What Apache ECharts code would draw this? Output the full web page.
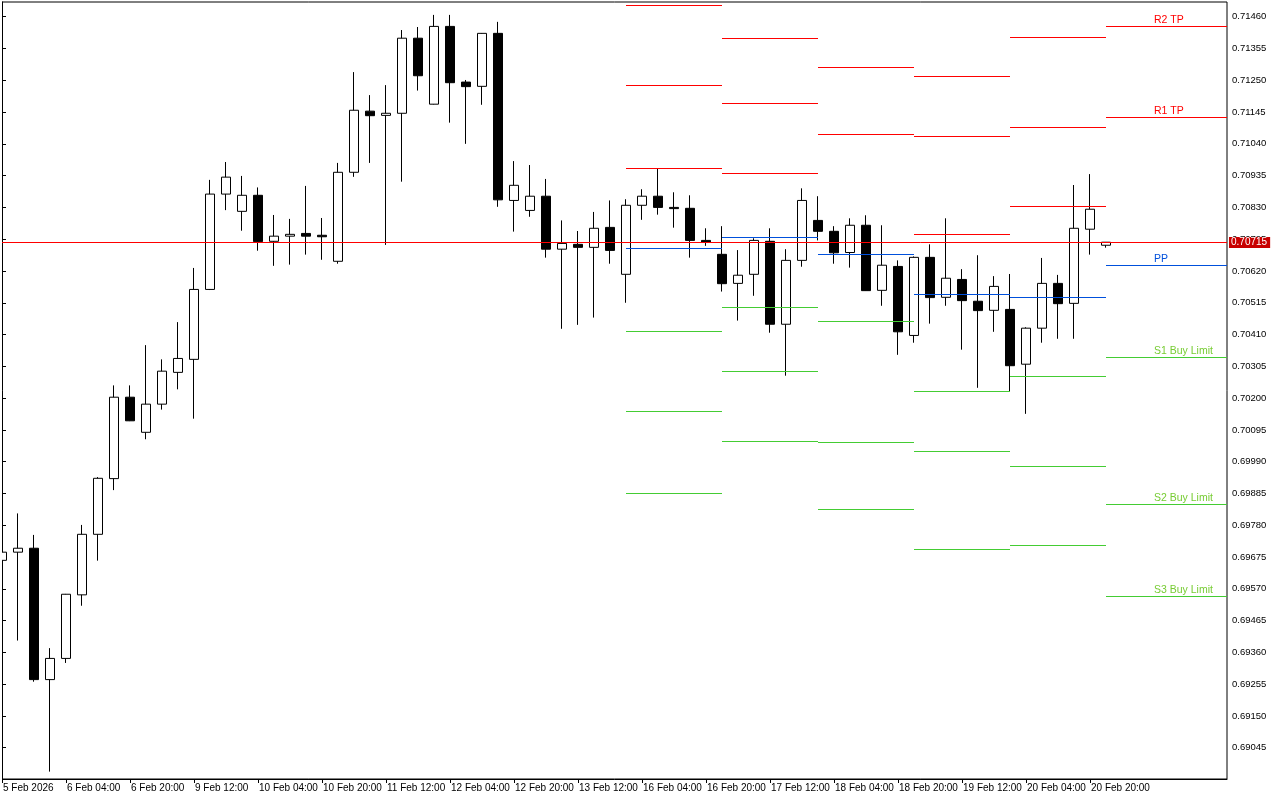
<!DOCTYPE html>
<html>
<head>
<meta charset="utf-8">
<title>H4 chart with daily pivots</title>
<script src="https://cdn.jsdelivr.net/npm/echarts@6.0.0/dist/echarts.min.js"></script>
<style>
  html, body { margin: 0; padding: 0; background: #fff; }
  #chart { width: 1280px; height: 800px; }
</style>
</head>
<body>
<div id="chart"></div>
<script>
// 4h bars, index 0 = 5 Feb 12:00, last = 23 Feb 00:00
const opens = [
  0.69664, 0.69691, 0.69704, 0.69270, 0.69340, 0.69550, 0.69750, 0.69934, 0.70203, 0.70087,
  0.70180, 0.70285, 0.70328, 0.70559, 0.70874, 0.70817, 0.70870, 0.70718, 0.70735, 0.70744,
  0.70738, 0.70652, 0.70946, 0.71148, 0.71134, 0.71141, 0.71389, 0.71171, 0.71428, 0.71244,
  0.71230, 0.71405, 0.70853, 0.70820, 0.70867, 0.70692, 0.70708, 0.70698, 0.70764, 0.70609,
  0.70837, 0.70867, 0.70830, 0.70827, 0.70721, 0.70675, 0.70579, 0.70609, 0.70718, 0.70444,
  0.70655, 0.70787, 0.70751, 0.70681, 0.70771, 0.70556, 0.70635, 0.70407, 0.70665, 0.70533,
  0.70592, 0.70520, 0.70490, 0.70493, 0.70312, 0.70431, 0.70579, 0.70513, 0.70758, 0.70705
];
const highs = [
  0.69698, 0.69819, 0.69748, 0.69374, 0.69553, 0.69781, 0.69939, 0.70242, 0.70242, 0.70375,
  0.70328, 0.70451, 0.70630, 0.70921, 0.70980, 0.70934, 0.70896, 0.70805, 0.70792, 0.70901,
  0.70795, 0.70977, 0.71277, 0.71201, 0.71234, 0.71416, 0.71426, 0.71466, 0.71466, 0.71251,
  0.71406, 0.71443, 0.70983, 0.70970, 0.70924, 0.70787, 0.70752, 0.70815, 0.70853, 0.70857,
  0.70890, 0.70957, 0.70880, 0.70870, 0.70761, 0.70768, 0.70689, 0.70728, 0.70761, 0.70692,
  0.70893, 0.70867, 0.70768, 0.70794, 0.70804, 0.70771, 0.70655, 0.70668, 0.70708, 0.70794,
  0.70626, 0.70672, 0.70603, 0.70610, 0.70434, 0.70663, 0.70607, 0.70904, 0.70940, 0.70715
];
const lows = [
  0.69659, 0.69399, 0.69263, 0.68966, 0.69325, 0.69514, 0.69663, 0.69896, 0.70124, 0.70064,
  0.70162, 0.70229, 0.70132, 0.70557, 0.70821, 0.70753, 0.70687, 0.70637, 0.70641, 0.70674,
  0.70657, 0.70644, 0.70931, 0.70977, 0.70706, 0.70915, 0.71216, 0.71170, 0.71110, 0.71040,
  0.71169, 0.70832, 0.70750, 0.70799, 0.70664, 0.70429, 0.70442, 0.70466, 0.70644, 0.70515,
  0.70789, 0.70806, 0.70763, 0.70664, 0.70703, 0.70552, 0.70456, 0.70538, 0.70416, 0.70274,
  0.70634, 0.70721, 0.70644, 0.70631, 0.70554, 0.70505, 0.70343, 0.70383, 0.70446, 0.70505,
  0.70360, 0.70234, 0.70419, 0.70221, 0.70148, 0.70383, 0.70396, 0.70396, 0.70674, 0.70697
];
const closes = [
  0.69691, 0.69704, 0.69270, 0.69340, 0.69552, 0.69750, 0.69935, 0.70203, 0.70125, 0.70180,
  0.70289, 0.70331, 0.70559, 0.70874, 0.70930, 0.70870, 0.70717, 0.70735, 0.70741, 0.70735,
  0.70733, 0.70946, 0.71151, 0.71133, 0.71141, 0.71389, 0.71265, 0.71428, 0.71242, 0.71229,
  0.71405, 0.70855, 0.70903, 0.70867, 0.70692, 0.70711, 0.70698, 0.70761, 0.70688, 0.70837,
  0.70867, 0.70830, 0.70826, 0.70721, 0.70715, 0.70578, 0.70606, 0.70721, 0.70444, 0.70655,
  0.70853, 0.70751, 0.70680, 0.70771, 0.70555, 0.70639, 0.70419, 0.70665, 0.70532, 0.70596,
  0.70522, 0.70489, 0.70569, 0.70307, 0.70431, 0.70579, 0.70512, 0.70761, 0.70824, 0.70715
];

// time axis labels, one every 4 bars
const xLabels = [
  '5 Feb 2026', '6 Feb 04:00', '6 Feb 20:00', '9 Feb 12:00', '10 Feb 04:00', '10 Feb 20:00',
  '11 Feb 12:00', '12 Feb 04:00', '12 Feb 20:00', '13 Feb 12:00', '16 Feb 04:00', '16 Feb 20:00',
  '17 Feb 12:00', '18 Feb 04:00', '18 Feb 20:00', '19 Feb 12:00', '20 Feb 04:00', '20 Feb 20:00'
];
const xLabelStep = 4;

// price scale ticks
const yTicks = [
  0.69045, 0.69150, 0.69255, 0.69360, 0.69465, 0.69570, 0.69675, 0.69780, 0.69885, 0.69990,
  0.70095, 0.70200, 0.70305, 0.70410, 0.70515, 0.70620, 0.70725, 0.70830, 0.70935, 0.71040,
  0.71145, 0.71250, 0.71355, 0.71460
];

// daily pivot levels: 16, 17, 18, 19, 20, 23 Feb (bar index where each day starts)
const dayStart = [39, 45, 51, 57, 63, 69];
const r3 = [0.71498, 0.71389, null, 0.71263, 0.71393, null];
const r2 = [0.71233, 0.71174, 0.71293, 0.71065, 0.71095, 0.71429];
const r1 = [0.70959, 0.70943, 0.71072, 0.70741, 0.70834, 0.71128];
const pp = [0.70695, 0.70731, 0.70675, 0.70543, 0.70533, 0.70639];
const s1 = [0.70421, 0.70500, 0.70454, 0.70222, 0.70272, 0.70335];
const s2 = [0.70156, 0.70289, 0.70054, 0.70024, 0.69975, 0.69849];
const s3 = [0.69885, 0.70057, 0.69833, 0.69700, 0.69714, 0.69545];
const levelNames = ['', 'R2 TP', 'R1 TP', 'PP', 'S1 Buy Limit', 'S2 Buy Limit', 'S3 Buy Limit'];

const RED = '#ff0000';
const BLUE = '#0050dc';
const GREEN = '#44cc33';
const FONT = '"Liberation Sans", Arial, sans-serif';

const levels = [
  { vals: r3, color: RED, text: RED },
  { vals: r2, color: RED, text: RED },
  { vals: r1, color: RED, text: RED },
  { vals: pp, color: BLUE, text: BLUE },
  { vals: s1, color: GREEN, text: '#77cc33' },
  { vals: s2, color: GREEN, text: '#77cc33' },
  { vals: s3, color: GREEN, text: '#77cc33' }
];

const X_MAX = 76.5625;   // right edge of plot area in bar units (16px per bar)
const LABEL_AT = 72;     // bar where the current day's level names are written

const candles = opens.map((o, i) => [i, o, closes[i], lows[i], highs[i]]);
const lastPrice = closes[closes.length - 1];

// pivot segments: [fromBar, toBar, price, levelIndex, label]
const pivotRows = [];
levels.forEach((lv, li) => {
  lv.vals.forEach((v, d) => {
    if (v == null) return;
    const end = d + 1 < dayStart.length ? dayStart[d + 1] : X_MAX;
    const label = d === dayStart.length - 1 ? levelNames[li] : '';
    pivotRows.push([dayStart[d], end, v, li, label]);
  });
});

function renderPivot(params, api) {
  const row = pivotRows[params.dataIndex];
  const lv = levels[row[3]];
  const a = api.coord([row[0], row[2]]);
  const b = api.coord([row[1], row[2]]);
  const y = Math.round(a[1]) + 0.5;
  const children = [{
    type: 'line',
    shape: { x1: Math.round(a[0]), y1: y, x2: Math.round(b[0]), y2: y },
    style: { stroke: lv.color, lineWidth: 1 }
  }];
  if (row[4]) {
    const t = api.coord([LABEL_AT, row[2]]);
    children.push({
      type: 'text',
      x: Math.round(t[0]),
      y: y - 1,
      style: { text: row[4], fill: lv.text, font: '10.5px ' + FONT, align: 'left', verticalAlign: 'bottom' }
    });
  }
  return { type: 'group', children: children };
}

// bid line across the whole chart + price tag on the scale
function renderBid(params, api) {
  const a = api.coord([0, api.value(0)]);
  const b = api.coord([X_MAX, api.value(0)]);
  const y = Math.round(a[1]) + 0.5;
  return {
    type: 'group',
    children: [{
      type: 'line',
      shape: { x1: Math.round(a[0]), y1: y, x2: Math.round(b[0]), y2: y },
      style: { stroke: RED, lineWidth: 1 }
    }, {
      type: 'text',
      x: Math.round(b[0]) + 2,
      y: y,
      style: {
        text: api.value(0).toFixed(5),
        fill: '#fff',
        backgroundColor: '#c80000',
        padding: [1, 3, 0, 2],
        font: '10px ' + FONT,
        align: 'left',
        verticalAlign: 'middle'
      }
    }]
  };
}

const yMin = 0.689416;
const yMax = 0.715086;

const chart = echarts.init(document.getElementById('chart'));

const option = {
  animation: false,
  backgroundColor: '#fff',
  grid: {
    left: 2, top: 2, right: 53, bottom: 21,
    show: true, borderColor: '#000', borderWidth: 1, backgroundColor: '#fff'
  },
  // hides the part of the first bar that falls left of the frame
  graphic: [{
    type: 'rect', left: 0, top: 0, z: 100,
    shape: { width: 2, height: 780 },
    style: { fill: '#fff' }
  }],
  xAxis: {
    type: 'value',
    min: 0,
    max: X_MAX,
    splitLine: { show: false },
    axisLine: { show: true, lineStyle: { color: '#000', width: 1 } },
    axisTick: {
      show: true, length: 4, lineStyle: { color: '#000' },
      customValues: xLabels.map((s, i) => i * xLabelStep)
    },
    axisLabel: {
      customValues: xLabels.map((s, i) => i * xLabelStep),
      formatter: v => xLabels[Math.round(v / xLabelStep)],
      align: 'left',
      margin: 4,
      padding: [0, 0, 0, 1],
      color: '#000',
      fontFamily: FONT,
      fontSize: 10
    }
  },
  yAxis: {
    type: 'value',
    position: 'right',
    min: yMin,
    max: yMax,
    splitLine: { show: false },
    axisLine: { show: true, lineStyle: { color: '#000', width: 1 } },
    axisTick: { show: true, length: 4, lineStyle: { color: '#000' }, customValues: yTicks },
    axisLabel: {
      customValues: yTicks,
      formatter: v => v.toFixed(5),
      margin: 5,
      padding: [2, 0, 0, 0],
      color: '#000',
      fontFamily: FONT,
      fontSize: 9.5
    }
  },
  series: [
    {
      name: 'price',
      type: 'candlestick',
      data: candles,
      encode: { x: 0, y: [1, 2, 3, 4] },
      barWidth: 9,
      clip: true,
      silent: true,
      z: 2,
      itemStyle: {
        color: '#fff',
        color0: '#000',
        borderColor: '#000',
        borderColor0: '#000',
        borderColorDoji: '#000',
        borderWidth: 1
      }
    },
    {
      name: 'pivots',
      type: 'custom',
      coordinateSystem: 'cartesian2d',
      renderItem: renderPivot,
      encode: { x: [0, 1], y: 2 },
      data: pivotRows,
      silent: true,
      z: 3
    },
    {
      name: 'bid',
      type: 'custom',
      coordinateSystem: 'cartesian2d',
      renderItem: renderBid,
      encode: { y: 0 },
      data: [[lastPrice]],
      silent: true,
      z: 4
    }
  ]
};

chart.setOption(option);
</script>
</body>
</html>
